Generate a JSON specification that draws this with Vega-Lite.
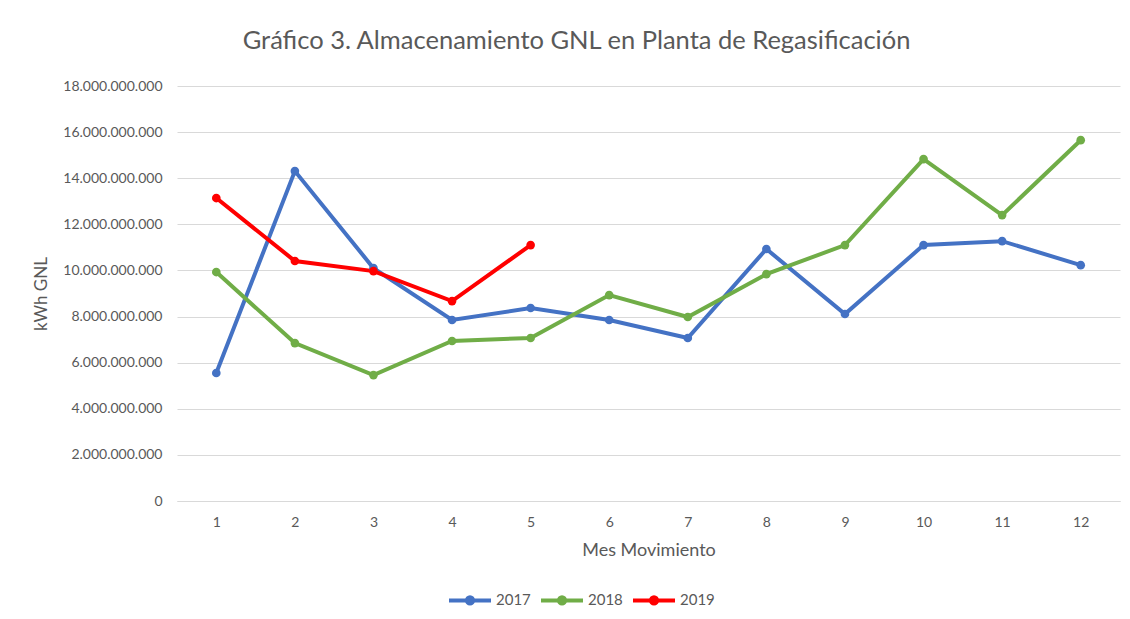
{
  "$schema": "https://vega.github.io/schema/vega-lite/v6.json",
  "width": 943,
  "height": 415,
  "autosize": "none",
  "padding": {"left": 177, "top": 86, "right": 10, "bottom": 118},
  "background": "white",
  "title": {
    "text": "Gráfico 3. Almacenamiento GNL en Planta de Regasificación",
    "font": "Lato",
    "fontSize": 25.5,
    "fontWeight": "normal",
    "color": "#595959",
    "anchor": "middle",
    "dx": -72,
    "offset": 25
  },
  "data": {
    "values": [
      {"mes": 1, "anio": "2017", "kwh": 5550000000},
      {"mes": 2, "anio": "2017", "kwh": 14310000000},
      {"mes": 3, "anio": "2017", "kwh": 10100000000},
      {"mes": 4, "anio": "2017", "kwh": 7850000000},
      {"mes": 5, "anio": "2017", "kwh": 8370000000},
      {"mes": 6, "anio": "2017", "kwh": 7850000000},
      {"mes": 7, "anio": "2017", "kwh": 7070000000},
      {"mes": 8, "anio": "2017", "kwh": 10930000000},
      {"mes": 9, "anio": "2017", "kwh": 8110000000},
      {"mes": 10, "anio": "2017", "kwh": 11100000000},
      {"mes": 11, "anio": "2017", "kwh": 11270000000},
      {"mes": 12, "anio": "2017", "kwh": 10230000000},
      {"mes": 1, "anio": "2018", "kwh": 9930000000},
      {"mes": 2, "anio": "2018", "kwh": 6850000000},
      {"mes": 3, "anio": "2018", "kwh": 5460000000},
      {"mes": 4, "anio": "2018", "kwh": 6940000000},
      {"mes": 5, "anio": "2018", "kwh": 7070000000},
      {"mes": 6, "anio": "2018", "kwh": 8930000000},
      {"mes": 7, "anio": "2018", "kwh": 7980000000},
      {"mes": 8, "anio": "2018", "kwh": 9840000000},
      {"mes": 9, "anio": "2018", "kwh": 11100000000},
      {"mes": 10, "anio": "2018", "kwh": 14830000000},
      {"mes": 11, "anio": "2018", "kwh": 12400000000},
      {"mes": 12, "anio": "2018", "kwh": 15650000000},
      {"mes": 1, "anio": "2019", "kwh": 13140000000},
      {"mes": 2, "anio": "2019", "kwh": 10410000000},
      {"mes": 3, "anio": "2019", "kwh": 9970000000},
      {"mes": 4, "anio": "2019", "kwh": 8670000000},
      {"mes": 5, "anio": "2019", "kwh": 11100000000}
    ]
  },
  "mark": {
    "type": "line",
    "strokeWidth": 4,
    "point": {"filled": true, "size": 75}
  },
  "encoding": {
    "x": {
      "field": "mes",
      "type": "ordinal",
      "scale": {"type": "point", "padding": 0.5},
      "axis": {
        "title": "Mes Movimiento",
        "labelAngle": 0,
        "grid": false,
        "ticks": false,
        "domain": true,
        "domainColor": "#D9D9D9",
        "domainWidth": 1,
        "labelPadding": 14,
        "titlePadding": 12,
        "titleFontSize": 18
      }
    },
    "y": {
      "field": "kwh",
      "type": "quantitative",
      "scale": {"domain": [0, 18000000000], "nice": false},
      "axis": {
        "title": "kWh GNL",
        "values": [0, 2000000000, 4000000000, 6000000000, 8000000000, 10000000000, 12000000000, 14000000000, 16000000000, 18000000000],
        "format": ",.0f",
        "grid": true,
        "gridColor": "#D9D9D9",
        "gridWidth": 1,
        "ticks": false,
        "domain": false,
        "labelPadding": 15,
        "titlePadding": 12,
        "titleFontSize": 17
      }
    },
    "color": {
      "field": "anio",
      "type": "nominal",
      "scale": {"domain": ["2017", "2018", "2019"], "range": ["#4472C4", "#70AD47", "#FF0000"]},
      "legend": {
        "title": null,
        "orient": "none",
        "direction": "horizontal",
        "legendX": 270,
        "legendY": 491,
        "symbolType": "M-1,0H1M-0.15,0A0.15,0.15,0,1,1,0.15,0A0.15,0.15,0,1,1,-0.15,0Z",
        "symbolSize": 1764,
        "symbolStrokeWidth": 4,
        "labelOffset": 3,
        "columnPadding": 2,
        "labelFontSize": 15,
        "encode": {
          "symbols": {"update": {"fill": {"scale": "color", "field": "value"}, "fillOpacity": {"value": 1}}}
        }
      }
    }
  },
  "config": {
    "locale": {
      "number": {"decimal": ",", "thousands": ".", "grouping": [3], "currency": ["", " €"]}
    },
    "font": "Lato",
    "view": {"stroke": null},
    "axis": {
      "labelFont": "Lato",
      "labelFontSize": 14,
      "labelColor": "#595959",
      "titleFont": "Lato",
      "titleFontSize": 16,
      "titleFontWeight": "normal",
      "titleColor": "#595959"
    },
    "legend": {
      "labelFont": "Lato",
      "labelFontSize": 15,
      "labelColor": "#595959"
    }
  }
}
